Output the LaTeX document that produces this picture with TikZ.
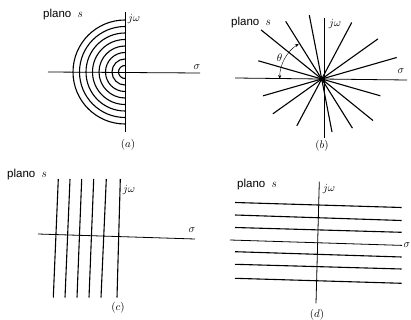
\documentclass[tikz,border=0pt]{standalone}
\usepackage{amsmath,amssymb}
\usepackage{fontspec}
\usepackage{tikz}
\usetikzlibrary{arrows.meta,calc,positioning}
\newfontfamily\planofont{Liberation Sans}

\begin{document}
\begin{tikzpicture}[x=1pt,y=-1pt,>={Stealth[length=4pt,width=3pt]},
    axis/.style={line width=0.8pt},
    curve/.style={line width=1.1pt},
    sym/.style={font=\fontsize{11}{13}\selectfont,inner sep=0pt},
    plano/.style={font=\planofont\fontsize{11.5}{13}\selectfont,inner sep=0pt}]
  \useasboundingbox (0,0) rectangle (411,320);
  % (a) circles
  \draw[axis] (48,72) -- (200,73);
  \draw[axis] (125,12) -- (125,132);
  \foreach \k in {1,...,8}
    \draw[curve] (125,{72-6.5*\k}) arc[start angle=90,end angle=270,radius={6.5pt*\k}];
  \node[plano] (planoA) at (63,15) {plano\hspace{6pt}$s$};
  \node[sym] (jwA) at (134,19) {$j\omega$};
  \node[sym] (sigA) at (197,67) {$\sigma$};
  \node[sym] (capA) at (128,145) {$(a)$};
  % (b) rays through the origin
  \coordinate (Ob) at (321.7,79);
  \draw[axis] (235,78) -- (407,80);
  \draw[axis] (324,18) -- (324,138);
  \foreach \a/\u/\d in {16/78/61, 35.5/69/60, 62/64/53, 101/65/54, 122/68/58, 141/78/66, 164/66/61}
    \draw[curve] ($(Ob)+({\u*cos(\a)},{-\u*sin(\a)})$) -- ($(Ob)+({-\d*cos(\a)},{\d*sin(\a)})$);
  \fill (Ob) circle (2.4);
  \draw[thin,<->] ($(Ob)+(-42,0)$) arc[start angle=180,end angle=123,radius=42pt];
  \node[sym] (thB) at (279.5,57.5) {$\theta$};
  \node[plano] (planoB) at (251,23) {plano\hspace{6pt}$s$};
  \node[sym] (jwB) at (335,24) {$j\omega$};
  \node[sym] (sigB) at (401,71) {$\sigma$};
  \node[sym] (capB) at (322,146) {$(b)$};
  % (c) vertical lines
  \draw[axis] (38,234) -- (195,239);
  \foreach \t/\b in {58.3/53.3, 70/65, 81.7/77, 93.7/89, 106.3/101, 120.3/117}
    \draw[curve] (\t,179) -- (\b,297.5);
  \node[plano] (planoC) at (27,175) {plano\hspace{6pt}$s$};
  \node[sym] (jwC) at (129,190) {$j\omega$};
  \node[sym] (sigC) at (192,230) {$\sigma$};
  \node[sym] (capC) at (118,308) {$(c)$};
  % (d) horizontal lines
  \draw[axis] (319.3,181.7) -- (316,303.3);
  \draw[axis] (230,240) -- (402,245.4);
  \foreach \l/\r in {202.5/207.5, 215/220.5, 227.5/232.3, 251.7/257, 264.3/269, 278.3/283.3}
    \draw[curve] (235,\l) -- (401.7,\r);
  \node[plano] (planoD) at (257,185) {plano\hspace{6pt}$s$};
  \node[sym] (jwD) at (329,189) {$j\omega$};
  \node[sym,anchor=east] (sigD) at (410.5,245) {$\sigma$};
  \node[sym] (capD) at (317,315) {$(d)$};
\end{tikzpicture}
\end{document}
